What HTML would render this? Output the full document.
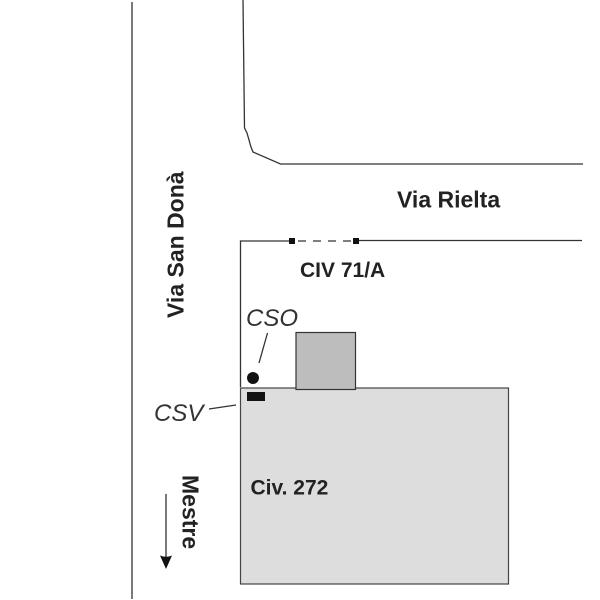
<!DOCTYPE html>
<html><head><meta charset="utf-8"><style>
html,body{margin:0;padding:0;background:#fff}
svg{display:block}
text{font-family:"Liberation Sans",sans-serif;fill:#222;font-weight:bold}
.i{font-style:italic;font-weight:normal;font-size:24px;fill:#333}
</style></head><body>
<svg width="600" height="600" viewBox="0 0 600 600" xmlns="http://www.w3.org/2000/svg">
<rect width="600" height="600" fill="#fff"/>
<g fill="none" stroke="#333" stroke-width="1.3">
<path d="M132 2V599"/>
<path d="M243 0L244.500 128L247 133L251 147L253 152L280.500 164H583"/>
<path d="M240.500 387V241H292"/>
<path d="M356 240.500H582"/>
<path d="M298 241H353" stroke-dasharray="8 7"/>
<path d="M267.500 333L259 363"/>
<path d="M209 409L236 405"/>
</g>
<rect x="240.500" y="388" width="268" height="196" fill="#dddddd" stroke="#444" stroke-width="1.200"/>
<rect x="296" y="332.500" width="59.500" height="57" fill="#bdbdbd" stroke="#333" stroke-width="1.200"/>
<rect x="289" y="238" width="6" height="6" fill="#111"/>
<rect x="353" y="238" width="6" height="6" fill="#111"/>
<circle cx="253" cy="378" r="6" fill="#111"/>
<rect x="247" y="392" width="18" height="9" fill="#111"/>
<path d="M166 494V560" stroke="#333" stroke-width="1.300"/>
<path d="M160 555.500Q166 558 172 555.500L166 569Z" fill="#111"/>
<text x="397" y="207.700" style="font-size:23px">Via Rielta</text>
<text x="300" y="277" style="font-size:21px">CIV 71/A</text>
<text x="250.500" y="494.500" style="font-size:21px">Civ. 272</text>
<text class="i" x="246" y="326">CSO</text>
<text class="i" x="154" y="421">CSV</text>
<text transform="translate(183.500,318) rotate(-90)" style="font-size:23px">Via San Donà</text>
<text transform="translate(182.500,475) rotate(90)" style="font-size:23px">Mestre</text>
</svg>
</body></html>
